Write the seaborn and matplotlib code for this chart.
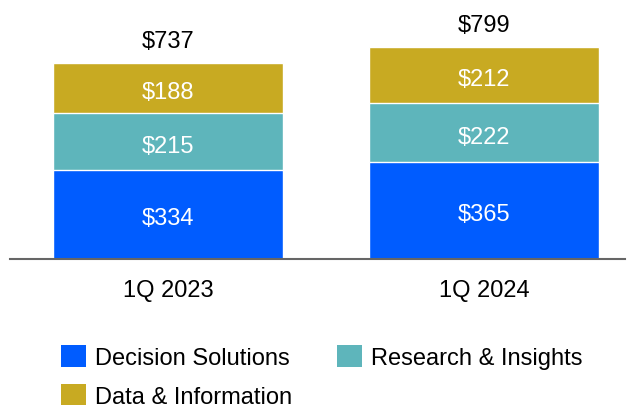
import matplotlib
matplotlib.use("Agg")
import matplotlib.pyplot as plt
import pandas as pd
import seaborn as sns
from matplotlib.patches import Patch

sns.set_style("white")
plt.rcParams['font.family'] = ['Liberation Sans', 'DejaVu Sans']

# dati
quarters = ["1Q 2023", "1Q 2024"]
decision_solutions = [334, 365]
research_insights = [215, 222]
data_information = [188, 212]
series_names = ["Decision Solutions", "Research & Insights", "Data & Information"]
colors = ["#005CFF", "#5EB5BB", "#C8AA22"]

df = pd.DataFrame({
    "quarter": quarters,
    "ds": decision_solutions,
    "ri": research_insights,
    "di": data_information,
})
df["ds_ri"] = df["ds"] + df["ri"]
df["total"] = df["ds_ri"] + df["di"]

W, H = 634, 406
fig = plt.figure(figsize=(W / 100, H / 100), dpi=100)
ax = fig.add_axes([10 / W, 1 - 259.5 / H, 615 / W, 259.5 / H])

# barre impilate: si disegnano i cumulativi dal piu alto al piu basso
sns.barplot(data=df, x="quarter", y="total", color=colors[2], width=0.728,
            saturation=1, ax=ax)
sns.barplot(data=df, x="quarter", y="ds_ri", color=colors[1], width=0.728,
            saturation=1, ax=ax)
sns.barplot(data=df, x="quarter", y="ds", color=colors[0], width=0.728,
            saturation=1, ax=ax)

fs = 17


def seg_label(x, y, val):
    ax.annotate(f"${val}", (x, y), xytext=(0, -3), textcoords="offset points",
                ha="center", va="center", color="white", fontsize=fs)


for i, row in df.iterrows():
    seg_label(i, row["ds"] / 2, row["ds"])
    seg_label(i, row["ds"] + row["ri"] / 2, row["ri"])
    seg_label(i, row["ds_ri"] + row["di"] / 2, row["di"])
    ax.annotate(f"${row['total']}", (i, row["total"]), xytext=(0, 8),
                textcoords="offset points", ha="center", va="bottom",
                color="black", fontsize=fs)

ax.set_xlim(-0.5, 1.446)
ax.set_ylim(0, 980)
ax.set_xlabel("")
ax.set_ylabel("")
ax.set_yticks([])
ax.tick_params(axis="x", length=0, pad=15, labelsize=fs, labelcolor="black")
for s in ["top", "left", "right"]:
    ax.spines[s].set_visible(False)
ax.spines["bottom"].set_color("#666666")
ax.spines["bottom"].set_linewidth(1.5)

# ordine per colonne: DS e D&I nella prima, R&I nella seconda
order = [0, 2, 1]
handles = [Patch(facecolor=colors[k], edgecolor="none") for k in order]
labels = [series_names[k] for k in order]
fig.legend(handles, labels, loc="upper left",
           bbox_to_anchor=(61 / W, 1 - 346 / H), ncol=2, frameon=False,
           fontsize=fs, labelcolor="black", handlelength=1.06,
           handleheight=1.06, handletextpad=0.38, columnspacing=1.9,
           labelspacing=0.62, borderpad=0, borderaxespad=0)

fig.savefig("out.png", dpi=100)
